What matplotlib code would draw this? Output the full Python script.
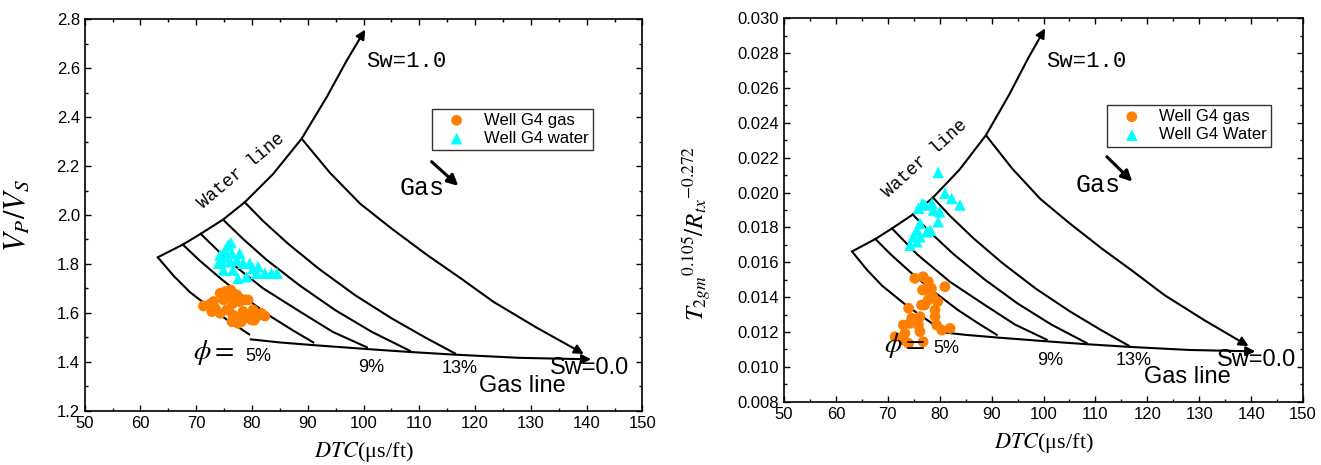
import matplotlib
matplotlib.use("Agg")
import matplotlib.pyplot as plt
from matplotlib.ticker import MultipleLocator

plt.rcParams['font.family'] = ['Liberation Sans', 'DejaVu Sans']
plt.rcParams['mathtext.fontset'] = 'stix'

# ---- measured points (left panel units: DTC, Vp/Vs) ----
gas_dtc_l = [71.3, 72.5, 73.4, 74.3, 74.9, 75.2, 76.1, 76.6, 77.3, 77.8, 78.7, 79.3,
             75.5, 76.6, 77.8, 79.0, 79.9, 80.8, 81.7, 82.3, 74.3, 76.4, 77.5, 80.2,
             73.1, 78.4, 72.8, 75.8, 74.7, 76.2, 77.4, 78.1, 80.4]
gas_vpvs_l = [1.628, 1.636, 1.619, 1.680, 1.653, 1.687, 1.666, 1.639, 1.673, 1.646, 1.653, 1.653,
              1.612, 1.591, 1.578, 1.582, 1.571, 1.584, 1.598, 1.587, 1.598, 1.564, 1.557, 1.612,
              1.646, 1.605, 1.605, 1.612, 1.680, 1.693, 1.666, 1.564, 1.570]

water_dtc_l = [75.7, 75.2, 74.3, 76.4, 77.8, 74.6, 74.0, 76.1, 77.3, 78.4, 79.6, 80.2,
               81.1, 82.3, 83.5, 77.5, 79.0, 74.9, 76.6, 80.8, 75.5, 76.2, 84.5]
water_vpvs_l = [1.877, 1.857, 1.837, 1.843, 1.843, 1.809, 1.803, 1.809, 1.816, 1.803, 1.803, 1.782,
                1.789, 1.762, 1.762, 1.741, 1.748, 1.775, 1.775, 1.762, 1.830, 1.887, 1.762]

# ---- measured points (right panel: DTC, T2gm^0.105/Rtx^-0.272) ----
gas_dtc_r = [75.2, 76.8, 77.8, 77.1, 81.0, 78.4, 78.7, 77.8, 76.5, 74.0, 79.1, 74.6,
             76.2, 79.1, 73.0, 74.3, 75.9, 79.4, 80.4, 82.0, 73.3, 76.2, 71.4, 73.0,
             74.0, 76.8, 79.6, 77.1, 76.7]
gas_t2_r = [0.01508, 0.01517, 0.01489, 0.01441, 0.01460, 0.01451, 0.01402, 0.01384, 0.01355,
            0.01336, 0.01326, 0.01279, 0.01288, 0.01288, 0.01240, 0.01250, 0.01240, 0.01240,
            0.01211, 0.01221, 0.01192, 0.01202, 0.01173, 0.01154, 0.01135, 0.01144, 0.01374,
            0.01355, 0.01441]

water_dtc_r = [79.7, 81.0, 82.3, 83.9, 75.9, 77.2, 78.5, 78.8, 80.0, 79.7, 76.2, 75.6,
               78.2, 76.2, 74.9, 74.3, 75.6, 77.5, 76.7]
water_t2_r = [0.02116, 0.01996, 0.01967, 0.01929, 0.01910, 0.01929, 0.01938, 0.01900, 0.01890,
              0.01833, 0.01824, 0.01785, 0.01785, 0.01747, 0.01747, 0.01699, 0.01718, 0.01775,
              0.01938]

# ---- template lines, read in left panel units ----
water_line_x = [63.1, 67.6, 70.8, 74.8, 78.7, 83.8, 88.9, 93.4, 97.0, 100.3]
water_line_y = [1.827, 1.879, 1.923, 1.981, 2.052, 2.168, 2.312, 2.482, 2.632, 2.758]

gas_line_x = [79.6, 85.0, 91.0, 100.6, 108.3, 116.4, 128.0, 140.8]
gas_line_y = [1.492, 1.479, 1.468, 1.452, 1.440, 1.429, 1.416, 1.410]

poro_curves = [
    ([63.1, 66.0, 68.9, 73.8, 77.0, 79.5], [1.827, 1.750, 1.684, 1.598, 1.550, 1.512]),
    ([67.6, 70.6, 74.5, 79.0, 83.5, 87.5, 91.0], [1.879, 1.814, 1.738, 1.657, 1.583, 1.526, 1.479]),
    ([70.8, 75.7, 82.0, 88.6, 94.5, 100.6], [1.923, 1.814, 1.700, 1.605, 1.522, 1.459]),
    ([74.8, 78.5, 82.6, 88.6, 95.0, 101.5, 108.3], [1.981, 1.900, 1.817, 1.711, 1.610, 1.522, 1.445]),
    ([78.7, 82.0, 86.5, 92.0, 98.5, 105.0, 111.0, 116.4],
     [2.052, 1.975, 1.882, 1.780, 1.672, 1.578, 1.500, 1.434]),
]
outer_x = [88.9, 94.0, 99.4, 105.0, 111.3, 117.0, 123.3, 131.0, 139.5]
outer_y = [2.312, 2.172, 2.046, 1.945, 1.838, 1.748, 1.645, 1.540, 1.432]

poro_labels = ["5%", "9%", "13%"]

serif_mono = 'Liberation Mono'


def arrow_line(ax, xs, ys, lw=1.5):
    ax.plot(xs[:-1], ys[:-1], color='black', lw=lw, solid_capstyle='butt')
    ax.annotate('', xy=(xs[-1], ys[-1]), xytext=(xs[-2], ys[-2]),
                arrowprops=dict(arrowstyle='-|>', color='black', lw=lw,
                                mutation_scale=14, shrinkA=0, shrinkB=0))


def draw_template(ax, conv):
    arrow_line(ax, water_line_x, [conv(v) for v in water_line_y])
    arrow_line(ax, outer_x, [conv(v) for v in outer_y])
    arrow_line(ax, gas_line_x, [conv(v) for v in gas_line_y])
    for cx, cy in poro_curves:
        ax.plot(cx, [conv(v) for v in cy], color='black', lw=1.5)


def style_axes(ax):
    for s in ax.spines.values():
        s.set_linewidth(1.2)
    ax.tick_params(which='both', direction='in', top=True, right=True, labelsize=12)
    ax.tick_params(which='major', length=4, width=1)
    ax.tick_params(which='minor', length=2.5, width=1)
    ax.set_xlim(50, 150)
    ax.xaxis.set_major_locator(MultipleLocator(10))
    ax.xaxis.set_minor_locator(MultipleLocator(5))
    ax.set_xlabel(r"$DTC$(μs/ft)", fontsize=16, family='Liberation Serif', labelpad=7)


fig = plt.figure(figsize=(13.21, 4.65), dpi=100)

# ---------------- left panel ----------------
ax1 = fig.add_axes([0.0641, 0.1168, 0.4222, 0.8417])
style_axes(ax1)
ax1.set_ylim(1.2, 2.8)
ax1.yaxis.set_major_locator(MultipleLocator(0.2))
ax1.yaxis.set_minor_locator(MultipleLocator(0.1))
ax1.set_ylabel(r"$V_P/V_S$", fontsize=22)
ax1.yaxis.set_label_coords(-0.095, 0.50)

draw_template(ax1, lambda v: v)
ax1.scatter(gas_dtc_l, gas_vpvs_l, s=60, marker='o', color='#FF8000', edgecolors='none',
            label='Well G4 gas', zorder=3)
ax1.scatter(water_dtc_l, water_vpvs_l, s=70, marker='^', color='#00FFFF', edgecolors='none',
            label='Well G4 water', zorder=3)

ax1.text(100.5, 2.627, "Sw=1.0", ha='left', va='center', fontsize=16, family=serif_mono)
ax1.text(78.1, 2.18, "Water line", ha='center', va='center', rotation=40,
         fontsize=13, family=serif_mono)
ax1.text(110.5, 2.109, "Gas", ha='center', va='center', fontsize=18, family=serif_mono)
ax1.annotate('', xy=(117.0, 2.119), xytext=(112.2, 2.218),
             arrowprops=dict(arrowstyle='-|>', color='black', lw=2.2, mutation_scale=16,
                             shrinkA=0, shrinkB=0))
ax1.text(140.6, 1.373, "Sw=0.0", ha='center', va='center', fontsize=17)
ax1.text(128.4, 1.301, "Gas line", ha='center', va='center', fontsize=17)
for lab, px, py in zip(poro_labels, [81.2, 101.3, 117.2], [1.42, 1.376, 1.372]):
    ax1.text(px, py, lab, ha='center', va='center', fontsize=13)
ax1.text(73.2, 1.437, r"$\phi =$", ha='center', va='center', fontsize=20)
ax1.legend(loc='upper left', bbox_to_anchor=(0.622, 0.772), fontsize=12, frameon=True,
           fancybox=False, edgecolor='#333333', framealpha=1, borderpad=0.25,
           labelspacing=0.2, handlelength=2.5, handletextpad=0.4, borderaxespad=0,
           scatterpoints=1).get_frame().set_linewidth(1.0)

# ---------------- right panel ----------------
ax2 = fig.add_axes([0.5935, 0.1361, 0.3929, 0.8245])
style_axes(ax2)
ax2.set_ylim(0.008, 0.030)
ax2.yaxis.set_major_locator(MultipleLocator(0.002))
ax2.yaxis.set_minor_locator(MultipleLocator(0.001))
ax2.yaxis.set_major_formatter(matplotlib.ticker.FormatStrFormatter('%.3f'))
ax2.set_ylabel(r"$T_{2gm}{}^{0.105}/R_{tx}{}^{-0.272}$", fontsize=18)
ax2.yaxis.set_label_coords(-0.135, 0.44)

draw_template(ax2, lambda v: 0.008 + (v - 1.2) * 0.022 / 1.6)
ax2.scatter(gas_dtc_r, gas_t2_r, s=60, marker='o', color='#FF8000', edgecolors='none',
            label='Well G4 gas', zorder=3)
ax2.scatter(water_dtc_r, water_t2_r, s=70, marker='^', color='#00FFFF', edgecolors='none',
            label='Well G4 Water', zorder=3)

ax2.text(100.4, 0.0275, "Sw=1.0", ha='left', va='center', fontsize=16, family=serif_mono)
ax2.text(77.1, 0.02197, "Water line", ha='center', va='center', rotation=42,
         fontsize=13, family=serif_mono)
ax2.text(110.6, 0.02043, "Gas", ha='center', va='center', fontsize=18, family=serif_mono)
ax2.annotate('', xy=(117.1, 0.02063), xytext=(112.2, 0.02206),
             arrowprops=dict(arrowstyle='-|>', color='black', lw=2.2, mutation_scale=16,
                             shrinkA=0, shrinkB=0))
ax2.text(141.0, 0.01039, "Sw=0.0", ha='center', va='center', fontsize=17)
ax2.text(127.7, 0.00943, "Gas line", ha='center', va='center', fontsize=17)
for lab, px, py in zip(poro_labels, [81.3, 101.2, 117.3], [0.01106, 0.01039, 0.01039]):
    ax2.text(px, py, lab, ha='center', va='center', fontsize=13)
ax2.text(73.2, 0.01125, r"$\phi =$", ha='center', va='center', fontsize=20)
ax2.legend(loc='upper left', bbox_to_anchor=(0.622, 0.774), fontsize=12, frameon=True,
           fancybox=False, edgecolor='#333333', framealpha=1, borderpad=0.25,
           labelspacing=0.2, handlelength=2.5, handletextpad=0.4, borderaxespad=0,
           scatterpoints=1).get_frame().set_linewidth(1.0)

fig.savefig("out.png", dpi=100)
